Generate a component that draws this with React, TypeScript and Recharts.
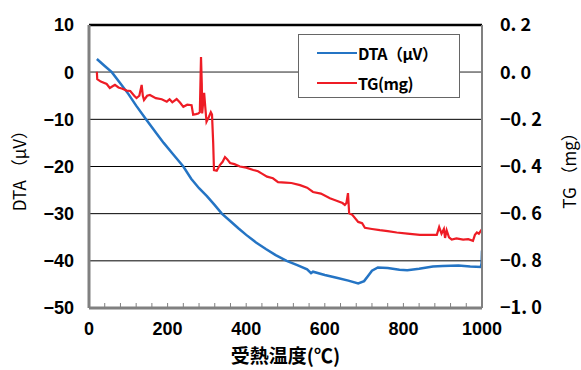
import React from 'react';
import { ComposedChart, Line, XAxis, YAxis, CartesianGrid, ReferenceLine, Legend, Label } from 'recharts';

// DTA curve (µV)
const dtaTemps = [20, 40, 58, 80, 100, 120, 145, 170, 190, 215, 240, 260, 280, 300, 320, 338, 360, 380, 400, 425, 450, 475, 503, 530, 555, 565, 570, 600, 630, 660, 685, 700, 710, 720, 735, 760, 790, 810, 840, 875, 900, 940, 970, 997, 999, 1000];
const dtaValues = [2.8, 1.3, 0, -2.4, -4.6, -7.1, -10, -12.8, -15, -17.5, -20, -22.6, -24.6, -26.3, -28.2, -30, -31.6, -33.1, -34.5, -36.1, -37.5, -38.8, -40, -40.9, -41.8, -42.6, -42.3, -43, -43.6, -44.2, -44.8, -44.3, -43.2, -42.1, -41.4, -41.5, -41.9, -42, -41.7, -41.2, -41.1, -41, -41.2, -41.3, -40.5, -37.8];

// TG curve (mg)
const tgTemps = [20, 21, 30, 45, 53, 60, 66, 75, 85, 96, 105, 115, 121, 128, 134, 137, 140, 148, 155, 170, 185, 198, 205, 212, 223, 232, 240, 250, 261, 265, 272, 278, 282, 285, 287, 288, 291, 293, 296, 299, 305, 310, 313, 316, 318, 325, 333, 340, 346, 352, 359, 370, 384, 400, 418, 430, 440, 453, 468, 481, 500, 515, 537, 555, 570, 590, 613, 630, 645, 651, 655, 659, 662, 670, 685, 695, 702, 720, 740, 760, 783, 810, 842, 870, 885, 891, 897, 903, 906, 910, 916, 923, 935, 952, 965, 977, 982, 987, 992, 1000];
const tgValues = [0.002, -0.03, -0.04, -0.05, -0.067, -0.06, -0.054, -0.065, -0.07, -0.078, -0.08, -0.1, -0.11, -0.1, -0.054, -0.1, -0.118, -0.1, -0.097, -0.11, -0.115, -0.125, -0.115, -0.128, -0.114, -0.13, -0.147, -0.138, -0.14, -0.18, -0.178, -0.175, -0.17, 0.064, -0.05, -0.175, -0.12, -0.088, -0.15, -0.21, -0.19, -0.17, -0.18, -0.3, -0.415, -0.418, -0.394, -0.38, -0.36, -0.37, -0.385, -0.39, -0.4, -0.405, -0.415, -0.42, -0.43, -0.443, -0.45, -0.466, -0.468, -0.47, -0.479, -0.49, -0.508, -0.515, -0.535, -0.545, -0.555, -0.563, -0.555, -0.513, -0.598, -0.605, -0.635, -0.64, -0.66, -0.665, -0.67, -0.674, -0.68, -0.685, -0.69, -0.69, -0.69, -0.657, -0.685, -0.665, -0.703, -0.67, -0.7, -0.71, -0.705, -0.71, -0.708, -0.715, -0.69, -0.68, -0.685, -0.665];

// x ticks every 40, labelled every 200
const xTicks = Array.from({ length: 26 }, (_, i) => i * 40);
const dtaTicks = [-50, -40, -30, -20, -10, 0, 10];
const tgTicks = [-1.0, -0.8, -0.6, -0.4, -0.2, 0, 0.2];

const dtaData = dtaTemps.map((t, i) => ({ t, dta: dtaValues[i] }));
const tgData = tgTemps.map((t, i) => ({ t, tg: tgValues[i] }));

const BLUE = '#2474c4';
const RED = '#ee1c25';
const AXIS_GRAY = '#808080';
const X_TICK_MARGIN = 14;

const tickFont = { fontFamily: 'Liberation Sans, Arial, sans-serif', fontWeight: 700, fontSize: 18, fill: '#000' };
const jpFont = { fontFamily: '"Noto Sans CJK JP", sans-serif', fill: '#000' };

const fmtLeft = (v: number) => (v < 0 ? '\u2212' + Math.abs(v) : String(v));
const fmtRight = (v: number) => {
  const s = Math.abs(v).toFixed(1).replace('.', '. ');
  return v < 0 ? '\u2212' + s : s;
};

const XTick = (props: any) => {
  const { x, y, payload } = props;
  const axisY = y - X_TICK_MARGIN;
  const v = payload.value;
  return (
    <g>
      <line x1={x} x2={x} y1={axisY - 1} y2={axisY - 5} stroke={AXIS_GRAY} strokeWidth={1} />
      {v % 200 === 0 && (
        <text x={x} y={y} dy="0.71em" textAnchor="middle" style={tickFont}>
          {v}
        </text>
      )}
    </g>
  );
};

const LegendBox = () => (
  <div
    style={{
      width: 162,
      height: 64,
      border: '1.5px solid #666',
      background: '#fff',
      boxSizing: 'border-box',
      fontFamily: '"Noto Sans CJK JP", sans-serif',
      fontWeight: 700,
      fontSize: 16,
      color: '#000',
      position: 'relative',
    }}
  >
    {[
      { name: 'DTA（μV）', color: BLUE, top: 8 },
      { name: 'TG(mg)', color: RED, top: 38 },
    ].map((item) => (
      <div key={item.name} style={{ position: 'absolute', left: 18, top: item.top, display: 'flex', alignItems: 'center', height: 20 }}>
        <svg width={40} height={4} style={{ display: 'block' }}>
          <line x1={0} y1={2} x2={40} y2={2} stroke={item.color} strokeWidth={2} />
        </svg>
        <span style={{ marginLeft: 1, lineHeight: '20px', letterSpacing: -0.5 }}>{item.name}</span>
      </div>
    ))}
  </div>
);

const App = () => (
  <div style={{ position: 'absolute', left: 0, top: 0, width: 581, height: 370, background: '#fff', overflow: 'hidden' }}>
    <ComposedChart width={581} height={370} margin={{ top: 25, right: 0, bottom: 0, left: 0 }}>
      <CartesianGrid vertical={false} stroke="#000" strokeWidth={1} yAxisId="dta" />
      <XAxis
        dataKey="t"
        type="number"
        domain={[0, 1000]}
        ticks={xTicks}
        interval={0}
        allowDataOverflow
        height={62}
        axisLine={{ stroke: AXIS_GRAY, strokeWidth: 3 }}
        tickLine={false}
        tickSize={0}
        tickMargin={X_TICK_MARGIN}
        tick={<XTick />}
      >
        <Label
          value="受熱温度(℃)"
          position="insideBottom"
          offset={7}
          style={{ ...jpFont, fontWeight: 700, fontSize: 19 }}
        />
      </XAxis>
      <YAxis
        yAxisId="dta"
        type="number"
        domain={[-50, 10]}
        ticks={dtaTicks}
        width={89}
        axisLine={{ stroke: AXIS_GRAY, strokeWidth: 3 }}
        tickLine={false}
        tickSize={0}
        tickMargin={15}
        tickFormatter={fmtLeft}
        tick={tickFont}
      >
        <Label
          value="DTA （μV）"
          angle={-90}
          position="insideLeft"
          offset={20}
          style={{ ...jpFont, fontSize: 17, textAnchor: 'middle' }}
        />
      </YAxis>
      <YAxis
        yAxisId="tg"
        orientation="right"
        type="number"
        domain={[-1, 0.2]}
        ticks={tgTicks}
        width={99}
        axisLine={{ stroke: AXIS_GRAY, strokeWidth: 2 }}
        tickLine={false}
        tickSize={0}
        tickMargin={18}
        tickFormatter={fmtRight}
        tick={{ ...jpFont, fontSize: 18, fontWeight: 700 }}
      >
        <Label
          value="TG （mg）"
          angle={-90}
          position="insideRight"
          offset={11}
          style={{ ...jpFont, fontSize: 17, textAnchor: 'middle' }}
        />
      </YAxis>
      <ReferenceLine yAxisId="dta" y={0} stroke="#888" strokeWidth={1.5} />
      <ReferenceLine yAxisId="dta" y={10} stroke="#000" strokeWidth={2.5} />
      <Line
        data={dtaData}
        yAxisId="dta"
        dataKey="dta"
        name="DTA（μV）"
        type="linear"
        stroke={BLUE}
        strokeWidth={2.5}
        dot={false}
        isAnimationActive={false}
      />
      <Line
        data={tgData}
        yAxisId="tg"
        dataKey="tg"
        name="TG(mg)"
        type="linear"
        stroke={RED}
        strokeWidth={2.2}
        dot={false}
        isAnimationActive={false}
      />
      <Legend
        layout="horizontal"
        verticalAlign="middle"
        align="center"
        content={() => <LegendBox />}
        wrapperStyle={{ left: 298, top: 34, width: 162, height: 64 }}
      />
    </ComposedChart>
  </div>
);

export default App;
